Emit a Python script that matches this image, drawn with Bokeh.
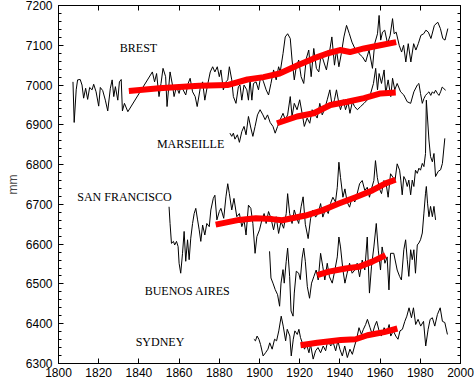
from bokeh.plotting import figure
from bokeh.models import Range1d, FixedTicker, LinearAxis, ColumnDataSource
from bokeh.core.properties import value
from bokeh.embed import file_html
from bokeh.resources import INLINE

# ---------------- data ----------------
brest_year = [1807.2,1807.8,1808.8,1809.5,1810.8,1811.7,1812.5,1813.5,1814.5,1815.5,1816.7,1817.5,1818.7,1820.0,1820.8,1822.0,1823.3,1824.5,1825.8,1826.7,1827.5,1828.3,1829.5,1830.3,1831.2,1831.8,1832.8,1834.5,
              1846.7,1847.8,1848.8,1850.0,1851.0,1852.0,1853.3,1854.0,1855.5,1856.7,1857.5,1858.7,1860.0,1861.0,1862.0,1863.3,1864.5,1865.5,1866.7,1868.0,1869.0,1870.5,1871.7,1872.8,1874.0,1875.5,1876.7,1877.8,1879.0,1880.0,1880.8,1882.0,1883.3,1884.2,1885.0,
              1886.2,1887.0,1888.3,1889.5,1890.3,1891.2,1892.3,1893.7,1894.5,1895.3,1896.2,1897.0,1898.3,1899.5,1900.7,1902.0,1903.3,1904.5,1905.7,1907.0,1908.3,1909.5,1910.3,1911.7,1912.8,1914.0,1915.3,1916.2,1917.3,1918.3,1919.5,1920.7,1922.0,1923.3,1924.5,1925.7,1927.0,1928.3,1929.5,1930.7,1932.0,1933.3,1934.7,1936.0,1937.3,1938.3,1939.5,1940.7,1942.0,1943.3,1944.7,1946.0,1947.8,1949.5,1951.2,1952.8,1954.5,1956.2,1957.3,1958.7,1959.5,1960.3,1961.2,1962.3,1963.7,1965.0,1966.2,1967.0,1968.0,1969.5,1970.7,1971.7,1972.8,1974.0,1975.3,1976.7,1977.8,1979.0,1980.3,1981.7,1982.8,1984.0,1985.3,1987.0,1988.7,1990.0,1991.2,1992.3,1993.7]
brest_mm = [7008,6906,6988,7013,7014,7000,6967,6992,6964,6994,6988,7002,6983,6947,6994,6986,6962,6935,6992,7013,6971,6996,6962,7008,7014,6935,6954,6933,
            7033,7008,7029,6971,7004,7042,7021,6946,7033,7000,6971,6996,6979,7000,6988,6975,7004,7017,6983,6971,6946,6992,7008,6962,6996,7033,7046,7033,7046,7021,7038,6988,7008,7013,7046,
            7013,6971,6954,6996,7000,6962,7000,6988,6962,7013,6962,7004,7008,6988,7025,7008,6988,6975,7004,7038,7013,7046,7033,7079,7121,7129,7117,7063,7013,7046,7063,7021,7004,7067,7088,7021,7092,7042,7033,7079,7058,7038,7079,7121,7050,7088,7046,7079,7121,7150,7129,7108,7088,7079,7071,7058,7088,7042,7104,7129,7175,7113,7133,7138,7104,7125,7167,7129,7133,7100,7083,7100,7058,7104,7058,7104,7088,7104,7125,7129,7138,7133,7117,7150,7158,7142,7117,7113,7142]

marseille_year = [1885.3,1886.2,1887.0,1887.8,1889.0,1890.0,1891.2,1892.3,1893.3,1894.5,1895.7,1896.7,1897.8,1899.0,1900.3,1901.7,1902.8,1904.0,1905.3,1906.7,1907.8,1909.0,1910.3,1911.7,1912.8,1914.0,1915.3,1916.2,1917.3,1918.7,1920.0,1921.2,1922.3,1923.7,1925.0,1926.2,1927.3,1928.7,1930.0,1931.2,1932.3,1933.7,1935.0,1936.2,1937.3,1938.3,1939.5,1940.3,1941.7,1942.8,1944.0,1945.0,1946.2,1947.3,1948.7,1950.3,1952.0,1953.7,1955.3,1956.7,1957.8,1958.7,1959.5,1960.7,1962.0,1962.8,1964.0,1965.3,1966.2,1967.3,1968.5,1970.2,1971.8,1973.5,1975.2,1976.8,1978.5,1979.3,1980.1,1981.0,1981.8,1982.6,1983.5,1984.3,1985.2,1986.0,1986.8,1987.6,1988.5,1989.3,1990.1,1990.9,1991.7,1992.6]
marseille_mm = [6879,6871,6879,6864,6875,6856,6883,6896,6875,6921,6892,6871,6896,6925,6938,6925,6913,6925,6906,6896,6879,6896,6913,6929,6913,6925,6971,6921,6954,6938,6963,6929,6896,6917,6904,6938,6929,6917,6954,6925,6938,6963,6988,6946,6963,6988,6954,6938,6963,6938,6958,6929,6958,6946,6938,6946,6954,6963,6979,7004,7042,6988,7029,7004,7038,6979,7013,6971,7017,6988,7004,6983,6975,6958,6954,6983,7000,7004,6979,6954,6966,6974,6979,6983,6974,6983,6979,6987,6979,6974,6983,6995,6991,6987]

sf_year = [1855.0,1855.5,1856.2,1857.2,1857.8,1858.7,1859.5,1860.0,1860.8,1861.7,1862.5,1863.3,1864.2,1865.0,1865.8,1866.7,1867.5,1868.3,1869.2,1870.0,1870.8,1871.7,1872.8,1873.8,1875.0,1875.8,1877.0,1877.8,1878.8,1880.0,1880.8,1882.2,1883.3,1884.2,1885.0,
           1886.2,1887.3,1888.7,1890.0,1891.2,1892.3,1893.3,1894.5,1895.7,1896.7,1897.8,1898.7,1900.0,1901.2,1902.3,1903.3,1904.5,1905.7,1907.0,1908.3,1909.5,1910.7,1912.0,1913.3,1914.0,1915.0,1916.2,1917.3,1918.3,1919.5,1920.7,1921.7,1922.8,
           1924.2,1925.4,1926.5,1927.9,1929.2,1930.4,1931.5,1932.9,1934.2,1935.3,1936.5,1937.8,1938.7,1939.5,1940.3,1941.5,1942.5,1943.6,1944.8,1946.1,1947.4,1948.6,1949.8,1951.1,1952.4,1953.6,1954.7,1955.7,1956.9,1957.7,1958.6,1959.7,1960.7,1961.9,1963.0,1964.0,1965.2,1966.4,1967.4,1968.5,1969.7,1970.3,1971.0,1971.8,1972.7,1973.5,1974.3,1975.2,1976.0,1976.8,1977.6,1978.5,1979.3,1980.1,1981.0,1981.8,1982.6,1983.0,1984.3,1985.1,1986.0,1986.8,1987.6,1988.9,1990.1,1991.0,1992.2]
sf_mm = [6694,6652,6602,6607,6598,6607,6594,6552,6527,6577,6632,6557,6611,6561,6615,6652,6677,6690,6661,6636,6607,6648,6623,6652,6644,6686,6715,6723,6661,6682,6690,6665,6719,6752,6727,
         6686,6715,6669,6677,6644,6661,6623,6698,6690,6652,6577,6619,6636,6661,6677,6652,6682,6665,6636,6669,6627,6657,6640,6677,6727,6677,6652,6686,6669,6652,6694,6719,6650,
         6614,6664,6685,6668,6677,6702,6668,6689,6677,6702,6718,6706,6743,6806,6768,6718,6739,6706,6693,6718,6706,6727,6752,6760,6735,6743,6718,6739,6760,6810,6768,6739,6727,6760,6752,6718,6777,6768,6760,6802,6786,6761,6724,6770,6761,6745,6761,6724,6761,6745,6786,6778,6791,6786,6803,6795,6828,6962,6862,6820,6807,6828,6770,6783,6787,6803,6866]

ba_year = [1905.0,1905.7,1906.7,1907.8,1909.0,1910.0,1910.7,1911.7,1912.3,1913.3,1914.0,1915.0,1915.7,1916.7,1917.3,1918.3,1919.5,1920.3,1921.2,1922.0,1922.8,1923.8,1924.9,1925.9,1927.0,1928.2,1929.2,1930.4,1931.5,1932.5,1933.7,1934.8,1936.2,1937.5,1938.7,1939.5,1940.3,1941.5,1942.5,1943.6,1944.8,1946.1,1947.4,1948.6,1949.8,1951.1,1952.4,1953.6,1954.7,1955.7,1956.9,1958.1,1959.1,1960.2,1961.0,1962.4,1963.5,1964.4,1965.2,1966.8,1968.5,1969.7,1970.6,1971.8,1972.7,1973.5,1974.3,1975.2,1976.0,1976.8,1977.6,1978.5,1979.3,1980.1,1981.0,1981.8,1982.6,1983.0,1983.6,1984.3,1985.1,1986.0,1986.8,1987.6]
ba_mm = [6582,6515,6502,6486,6473,6444,6502,6536,6502,6557,6590,6519,6432,6419,6477,6532,6527,6511,6565,6590,6557,6493,6464,6502,6518,6535,6510,6577,6543,6510,6552,6518,6502,6535,6568,6618,6593,6535,6502,6527,6552,6527,6535,6552,6518,6560,6535,6618,6477,6543,6593,6652,6585,6535,6593,6552,6568,6485,6577,6577,6535,6519,6510,6586,6611,6561,6519,6586,6561,6586,6527,6598,6603,6611,6628,6678,6728,6745,6703,6669,6695,6669,6695,6661]

syd_year = [1897.2,1898.0,1898.8,1899.7,1900.5,1901.8,1903.0,1904.2,1905.1,1906.3,1907.5,1908.5,1909.6,1910.8,1911.8,1913.0,1913.8,1915.1,1915.8,1916.8,1917.6,1918.8,1919.6,1920.4,1921.3,1922.4,1923.4,1924.6,1925.4,1926.7,1927.9,1929.1,1930.4,1931.7,1932.9,1934.1,1935.4,1936.7,1937.9,1939.0,1940.0,1941.2,1942.4,1943.7,1945.0,1946.2,1947.3,1948.3,1949.5,1950.7,1951.7,1952.8,1953.7,1955.0,1956.1,1957.3,1958.3,1959.5,1960.6,1962.0,1963.3,1964.5,1965.3,1966.6,1967.8,1968.9,1969.9,1971.1,1972.3,1973.3,1974.4,1975.6,1976.6,1977.7,1978.9,1980.2,1981.6,1982.7,1983.9,1984.9,1986.0,1987.2,1988.5,1989.9,1991.0,1992.2,1993.5]
syd_mm = [6361,6357,6369,6361,6348,6319,6327,6336,6352,6336,6361,6357,6382,6419,6394,6357,6386,6369,6319,6361,6382,6373,6386,6365,6352,6336,6348,6327,6348,6311,6332,6340,6327,6344,6332,6361,6344,6352,6332,6357,6336,6319,6344,6315,6336,6323,6344,6361,6390,6373,6386,6398,6411,6390,6373,6394,6406,6382,6369,6390,6377,6398,6369,6382,6369,6361,6382,6386,6406,6419,6440,6415,6440,6398,6411,6394,6406,6344,6386,6411,6415,6394,6423,6440,6406,6403,6373]

# smoothed trend curves (red)
brest_trend_year = [1835,1850,1870,1884,1894,1902,1910,1919,1927,1934,1940,1945,1952,1960,1968]
brest_trend_mm = [6985,6992,6998,7000,7014,7020,7029,7050,7067,7080,7088,7083,7092,7100,7108]
marseille_trend_year = [1908.7,1918.7,1927,1935.3,1943.7,1952,1960.3,1967.8]
marseille_trend_mm = [6904,6921,6929,6950,6958,6967,6979,6981]
sf_trend_year = [1878.2,1889.8,1898.1,1906.3,1911.3,1918,1922.9,1931.2,1939.5,1947.8,1956.1,1962.7,1967.7]
sf_trend_mm = [6649,6661,6665,6663,6660,6667,6672,6685,6702,6718,6735,6753,6762]
ba_trend_year = [1928.7,1934.5,1942.8,1949.4,1956.1,1962.7]
ba_trend_mm = [6522,6531,6539,6543,6556,6572]
syd_trend_year = [1920.4,1928.7,1940.4,1947.8,1953.7,1962,1968.6]
syd_trend_mm = [6346,6352,6359,6361,6371,6379,6388]

station_names = ["BREST", "MARSEILLE", "SAN FRANCISCO", "BUENOS AIRES", "SYDNEY"]
name_x = [1839.8, 1865.7, 1832.8, 1864.2, 1850.5]
name_y = [7092, 6852, 6719, 6482, 6355]

x_ticks = list(range(1800, 2001, 20))
y_ticks = list(range(6300, 7201, 100))
y_minor = list(range(6300, 7201, 20))

series = [(brest_year, brest_mm), (marseille_year, marseille_mm), (sf_year, sf_mm),
          (ba_year, ba_mm), (syd_year, syd_mm)]
trends = [(brest_trend_year, brest_trend_mm), (marseille_trend_year, marseille_trend_mm),
          (sf_trend_year, sf_trend_mm), (ba_trend_year, ba_trend_mm), (syd_trend_year, syd_trend_mm)]
for a, b in series + trends:
    assert len(a) == len(b), (len(a), len(b))

# ---------------- figure ----------------
p = figure(width=474, height=379, x_range=Range1d(1800, 2000), y_range=Range1d(6300, 7200),
           output_backend="svg", toolbar_location=None,
           min_border_left=58, min_border_right=14, min_border_top=5, min_border_bottom=15)
p.background_fill_color = "white"
p.border_fill_color = "white"
p.outline_line_color = "black"
p.outline_line_width = 1
p.xgrid.visible = False
p.ygrid.visible = False

FONT = "Liberation Sans"

def style_axis(ax, ticker, ticks, labels=True):
    ax.ticker = ticker
    ax.axis_line_color = "black"
    ax.major_tick_line_color = "black"
    ax.minor_tick_line_color = "black"
    ax.major_tick_in = 5
    ax.major_tick_out = 0
    ax.minor_tick_in = 3
    ax.minor_tick_out = 0
    ax.major_label_text_font = FONT
    ax.major_label_text_color = "black"
    if labels:
        ax.major_label_text_font_size = "12px"
    else:
        ax.major_label_overrides = {t: "" for t in ticks}
        ax.major_label_text_font_size = "1px"
        ax.major_label_standoff = 0

style_axis(p.xaxis[0], FixedTicker(ticks=x_ticks, minor_ticks=[]), x_ticks)
p.xaxis[0].major_label_standoff = 4
style_axis(p.yaxis[0], FixedTicker(ticks=y_ticks, minor_ticks=y_minor), y_ticks)
p.yaxis[0].major_label_standoff = 6
p.yaxis[0].axis_label = "mm"
p.yaxis[0].axis_label_text_font = FONT
p.yaxis[0].axis_label_text_font_size = "12px"
p.yaxis[0].axis_label_text_font_style = "normal"
p.yaxis[0].axis_label_standoff = 3

top = LinearAxis()
style_axis(top, FixedTicker(ticks=x_ticks, minor_ticks=[]), x_ticks, labels=False)
p.add_layout(top, "above")
right = LinearAxis()
style_axis(right, FixedTicker(ticks=y_ticks, minor_ticks=y_minor), y_ticks, labels=False)
p.add_layout(right, "right")

for yr, mm in series:
    p.line(yr, mm, line_color="black", line_width=1)
for yr, mm in trends:
    p.line(yr, mm, line_color="#ff0000", line_width=6, line_cap="butt", line_join="round")

src = ColumnDataSource(dict(x=name_x, y=name_y, t=station_names))
p.text(x="x", y="y", text="t", source=src, text_font=value("Liberation Serif"),
       text_font_size="12px", text_align="center", text_baseline="middle", text_color="black")

open("out.html", "w").write(file_html(p, INLINE))
